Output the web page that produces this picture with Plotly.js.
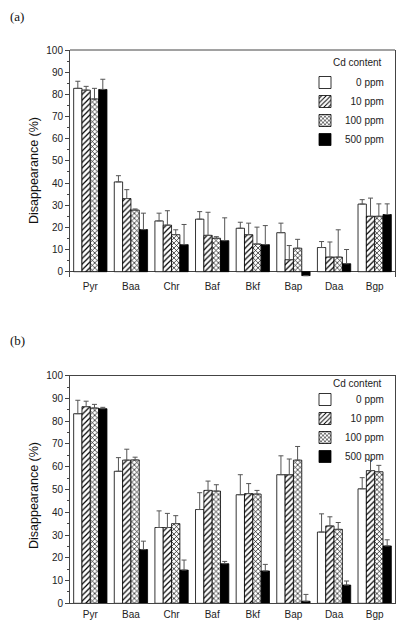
<!DOCTYPE html>
<html><head><meta charset="utf-8">
<script src="https://cdn.plot.ly/plotly-3.0.1.min.js"></script>
<style>html,body{margin:0;padding:0;background:#fff;}#chart{width:403px;height:623px;}</style>
</head><body><div id="chart"></div>
<script>
// Categories (PAHs)
const categories = ["Pyr","Baa","Chr","Baf","Bkf","Bap","Daa","Bgp"];
const seriesNames = ["\u2007\u20070 ppm","\u200710 ppm","100 ppm","500 ppm"];

// Panel (a) values and upper error lengths
const a0    = [82.7, 40.5, 22.9, 23.7, 19.6, 17.6, 10.9, 30.5];
const a0e   = [3.2, 2.8, 3.5, 3.4, 2.7, 4.3, 2.7, 2.0];
const a10   = [81.9, 33.0, 21.0, 16.4, 16.7, 5.4, 6.6, 25.0];
const a10e  = [1.7, 4.0, 6.5, 10.4, 5.2, 6.4, 6.8, 8.2];
const a100  = [77.9, 27.8, 16.7, 15.1, 12.5, 10.6, 6.6, 25.0];
const a100e = [4.8, 0.5, 2.2, 0.7, 7.6, 4.0, 12.3, 5.6];
const a500  = [82.2, 19.0, 12.2, 14.0, 12.2, -1.8, 3.6, 25.8];
const a500e = [4.6, 7.4, 9.1, 10.3, 8.6, 0, 6.4, 4.8];

// Panel (b) values and upper error lengths
const b0    = [83.3, 58.0, 33.3, 41.2, 47.7, 56.5, 31.3, 50.3];
const b0e   = [5.9, 6.0, 7.3, 7.4, 8.8, 8.3, 8.0, 4.9];
const b10   = [86.4, 62.9, 33.3, 49.6, 48.2, 56.5, 34.0, 58.3];
const b10e  = [2.4, 4.8, 6.2, 4.1, 4.4, 6.9, 4.0, 4.6];
const b100  = [85.8, 63.0, 35.0, 49.3, 48.0, 62.9, 32.5, 57.8];
const b100e = [1.6, 1.2, 3.5, 2.8, 1.6, 6.0, 3.0, 2.8];
const b500  = [85.5, 23.6, 14.6, 17.4, 14.2, 0.9, 8.0, 25.2];
const b500e = [0.6, 3.7, 4.4, 1.0, 2.9, 3.0, 1.8, 2.7];

const legendTitle = "Cd content";

const W = 403, H = 623;
const FONT = "Arial, 'Liberation Sans', sans-serif";
const styles = [
  {color:"#ffffff", pattern:{shape:""}},
  {color:"#ffffff", pattern:{shape:"/", fgcolor:"#000", bgcolor:"#fff", size:4, solidity:0.3, fillmode:"replace"}},
  {color:"#ffffff", pattern:{shape:"x", fgcolor:"#000", bgcolor:"#fff", size:3.5, solidity:0.35, fillmode:"replace"}},
  {color:"#000000", pattern:{shape:""}}
];

function makeTraces(vals, errs, xa, ya, legendName) {
  return vals.map((v, i) => ({
    type: "bar", x: categories, y: v, name: seriesNames[i],
    xaxis: xa, yaxis: ya, legend: legendName, cliponaxis: false,
    marker: {color: styles[i].color, pattern: styles[i].pattern, line: {color: "#000", width: 0.8}},
    error_y: {type: "data", array: errs[i], arrayminus: errs[i].map(() => 0), symmetric: false,
              color: "#555", thickness: 1, width: 2.5}
  }));
}

const traces = [
  ...makeTraces([a0, a10, a100, a500], [a0e, a10e, a100e, a500e], "x", "y", "legend"),
  ...makeTraces([b0, b10, b100, b500], [b0e, b10e, b100e, b500e], "x2", "y2", "legend2")
];

const px = (p) => 1 - p / H;
const xdom = [70 / W, 395 / W];

function yax(top, bottom, r0) {
  return {
    domain: [px(bottom), px(top)], range: [r0, 100], dtick: 10, tick0: 0,
    showline: true, mirror: true, linecolor: "#444", linewidth: 1,
    ticks: "outside", ticklen: 4, tickcolor: "#444", showgrid: false,
    zeroline: r0 < 0, zerolinecolor: "#444", zerolinewidth: 1,
    minor: {dtick: 5, ticks: "outside", ticklen: 2, tickcolor: "#444", showgrid: false},
    tickfont: {family: FONT, size: 10, color: "#222"}, automargin: false, fixedrange: true
  };
}
function xax(anchor, line) {
  return {
    domain: xdom, anchor: anchor, showline: line, mirror: true, linecolor: "#444", linewidth: 1,
    ticks: "", showgrid: false, zeroline: false, ticklabelstandoff: 2,
    tickfont: {family: FONT, size: 10, color: "#222"}, automargin: false, fixedrange: true
  };
}
function leg(top) {
  return {
    x: 305 / W, xanchor: "left", y: px(top), yanchor: "top",
    bgcolor: "rgba(0,0,0,0)", borderwidth: 0,
    font: {family: FONT, size: 10, color: "#222"},
    tracegroupgap: 0, itemwidth: 30, traceorder: "normal"
  };
}
function ann(text, x, y, extra) {
  return Object.assign({text: text, xref: "paper", yref: "paper", x: x / W, y: px(y),
    xanchor: "center", yanchor: "middle", showarrow: false,
    font: {family: FONT, size: 10, color: "#222"}}, extra || {});
}

const yA0 = -2.2;
const serif = {family: "'Liberation Serif', 'Times New Roman', serif", size: 13, color: "#111"};
const axTitleFont = {family: FONT, size: 12.5, color: "#111"};
const layout = {
  width: W, height: H, margin: {l: 0, r: 0, t: 0, b: 0},
  paper_bgcolor: "#fff", plot_bgcolor: "#fff",
  barmode: "group", bargap: 0.18, bargroupgap: 0,
  showlegend: true,
  xaxis: xax("y", false), yaxis: yax(50, 271.7 + 2.2 * 2.217, yA0),
  xaxis2: xax("y2", true), yaxis2: Object.assign(yax(375.7, 603.3, 0), {anchor: "x2"}),
  legend: leg(68), legend2: leg(385),
  shapes: [
    {type: "line", xref: "x domain", yref: "y domain", x0: 0, x1: 1, y0: 1, y1: 1,
     line: {color: "#444", width: 1}}
  ],
  annotations: [
    ann("(a)", 8, 16, {xanchor: "left", font: serif}),
    ann("(b)", 8, 340, {xanchor: "left", font: serif}),
    ann("Disappearance (%)", 34, 171, {textangle: -90, font: axTitleFont}),
    ann("Disappearance (%)", 34, 496, {textangle: -90, font: axTitleFont}),
    ann(legendTitle, 357, 62),
    ann(legendTitle, 357, 383)
  ]
};

Plotly.newPlot("chart", traces, layout, {displayModeBar: false, staticPlot: true});
</script></body></html>
